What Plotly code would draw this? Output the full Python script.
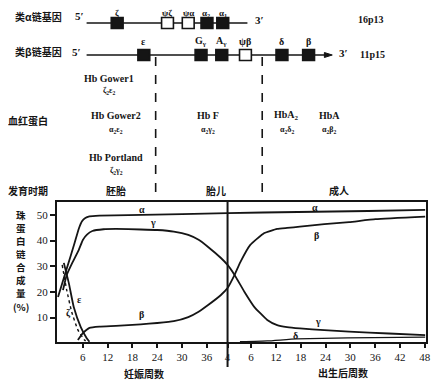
import plotly.graph_objects as go

# ---------------- data (x = weeks since conception; postnatal weeks offset by birth) ----------------
BIRTH = 40.7
alpha_wk  = [0, 2, 4, 5.0, 5.8, 6.6, 7.6, 10, 17, 30, 41, 58, 75, 88.8]
alpha_pct = [18, 28.5, 39, 44.5, 47.5, 48.8, 49.4, 49.7, 49.9, 50.3, 50.7, 51.1, 51.5, 51.9]

gamma_wk  = [1.2, 2.1, 3.5, 5.0, 6.0, 7.0, 8.3, 11, 14, 20, 24, 28, 31.5, 34, 36.3, 39.4, 41.0, 42.7,
             45.1, 47.5, 50.6, 53.0, 55.4, 58.5, 64.4, 70.4, 80, 88.8]
gamma_pct = [20.7, 26.6, 31.5, 36.3, 40.2, 42.3, 43.7, 44.4, 44.5, 44.3, 44.1, 43.5, 42.2, 40.3, 37.5,
             33.2, 30.5, 26.6, 20.0, 14.1, 9.1, 7.1, 6.3, 5.8, 5.1, 4.5, 3.8, 3.2]

beta_wk   = [4.8, 6.0, 7.6, 10, 14, 20, 24, 28, 31.5, 34, 36.3, 39.4, 41.0, 42.7, 44.1, 46.5,
             49.9, 53.0, 55.4, 58.5, 64.4, 70.4, 76.8, 88.8]
beta_pct  = [1.3, 4.0, 6.0, 6.5, 6.8, 7.4, 7.9, 8.6, 10.2, 12.3, 14.9, 18.8, 21.5, 26.6, 31.6, 38.3,
             42.9, 44.5, 44.9, 45.4, 46.4, 47.2, 48.3, 49.3]

epsilon_wk  = [1.4, 2.6, 3.8, 5.5, 6.9, 7.6]
epsilon_pct = [31.3, 23.5, 14.1, 6.3, 2.1, 0.6]

zeta_wk  = [1.0, 2.1, 3.3, 4.8, 6.4, 7.0]
zeta_pct = [30.5, 20.7, 12.2, 5.2, 1.3, 0.6]

delta_wk  = [44, 50.6, 57.7, 70, 88.8]
delta_pct = [0.6, 0.9, 1.7, 2.1, 2.4]

prenatal_ticks  = [6, 12, 18, 24, 30, 36]
postnatal_ticks = [6, 12, 18, 24, 30, 36, 42, 48]
y_ticks = [10, 20, 30, 40, 50]

# ---------------- layout helpers (reference pixel -> paper) ----------------
# the page body has an 8px default margin, so the figure is made 8px smaller
PAGE_MARGIN = 8
W, H = 442 - PAGE_MARGIN, 383 - PAGE_MARGIN
L, R, T, B = 57, 431, 202, 342          # plot area in reference pixels
Lf, Rf, Tf, Bf = L - PAGE_MARGIN, R - PAGE_MARGIN, T - PAGE_MARGIN, B - PAGE_MARGIN


def px(x):
    return (x - L) / (R - L)


def py(y):
    return (B - y) / (B - T)


INK = "#151515"
SERIF = "Liberation Serif, DejaVu Serif, serif"
CJK = "Noto Sans CJK SC, sans-serif"

fig = go.Figure()
line = dict(color=INK, width=1.8, shape="spline", smoothing=0.4)
fig.add_trace(go.Scatter(x=alpha_wk, y=alpha_pct, mode="lines", line=line, name="α"))
fig.add_trace(go.Scatter(x=gamma_wk, y=gamma_pct, mode="lines", line=line, name="γ"))
fig.add_trace(go.Scatter(x=beta_wk, y=beta_pct, mode="lines", line=line, name="β"))
fig.add_trace(go.Scatter(x=epsilon_wk, y=epsilon_pct, mode="lines", line=line, name="ε"))
fig.add_trace(go.Scatter(x=zeta_wk, y=zeta_pct, mode="lines",
                         line=dict(color=INK, width=1.4, dash="dot", shape="spline", smoothing=0.4),
                         name="ζ"))
fig.add_trace(go.Scatter(x=delta_wk, y=delta_pct, mode="lines",
                         line=dict(color=INK, width=1.3, shape="spline", smoothing=0.4), name="δ"))

tickvals = prenatal_ticks + [BIRTH + 0.3] + [BIRTH + p for p in postnatal_ticks]
ticktext = [str(t) for t in prenatal_ticks] + ["4"] + [str(t) for t in postnatal_ticks]

fig.update_layout(
    width=W, height=H, showlegend=False,
    margin=dict(l=Lf, r=W - Rf, t=Tf, b=H - Bf, pad=0),
    paper_bgcolor="white", plot_bgcolor="white",
    font=dict(family=SERIF, color=INK, size=11),
    xaxis=dict(range=[-0.25, 89.0], tickvals=tickvals, ticktext=ticktext, showgrid=False,
               zeroline=False, showline=True, linecolor=INK, linewidth=2, mirror=True,
               ticks="outside", ticklen=4, tickwidth=1.5, tickcolor=INK,
               tickfont=dict(family=SERIF, size=11, color=INK)),
    yaxis=dict(range=[0.5, 55], tickvals=y_ticks, showgrid=False, zeroline=False,
               showline=True, linecolor=INK, linewidth=2, mirror=True,
               ticks="outside", ticklen=5, tickwidth=1.5, tickcolor=INK,
               tickfont=dict(family=SERIF, size=11, color=INK)),
)

shapes = []
# birth line
shapes.append(dict(type="line", xref="x", yref="paper", x0=BIRTH + 0.3, x1=BIRTH + 0.3,
                   y0=py(367), y1=1, line=dict(color=INK, width=2)))
# dashed stage dividers
for xd in (157, 265):
    shapes.append(dict(type="line", xref="paper", yref="paper", x0=px(xd), x1=px(xd),
                       y0=py(57), y1=1, line=dict(color=INK, width=1.6, dash="dash")))
# gene lines
shapes.append(dict(type="line", xref="paper", yref="paper", x0=px(87), x1=px(250),
                   y0=py(23), y1=py(23), line=dict(color=INK, width=1.6)))
shapes.append(dict(type="line", xref="paper", yref="paper", x0=px(87), x1=px(330),
                   y0=py(55), y1=py(55), line=dict(color=INK, width=1.6)))
shapes.append(dict(type="path", xref="paper", yref="paper",
                   path=f"M {px(328)} {py(52.5)} L {px(336)} {py(55)} L {px(328)} {py(57.5)} Z",
                   fillcolor=INK, line=dict(color=INK, width=1)))

row1_genes = [(118, True), (169, False), (190, False), (209, True), (225, True)]
row2_genes = [(145, True), (203, True), (224, True), (248, False), (285, True), (312, True)]
for (gx, filled), gy in [(g, 23) for g in row1_genes] + [(g, 55) for g in row2_genes]:
    shapes.append(dict(type="rect", xref="paper", yref="paper",
                       x0=px(gx - 6), x1=px(gx + 6), y0=py(gy + 5.5), y1=py(gy - 5.5),
                       fillcolor=INK if filled else "white", line=dict(color=INK, width=1.6)))
fig.update_layout(shapes=shapes)

ann = []


def text(x, y, s, size=11, family=SERIF, xanchor="center"):
    ann.append(dict(x=px(x), y=py(y), xref="paper", yref="paper", text=s, showarrow=False,
                    font=dict(family=family, size=size, color=INK), xanchor=xanchor,
                    yanchor="middle"))


# gene rows
text(38, 17, "<b>类α链基因</b>", 10, CJK)
text(80, 16, "<b>5′</b>", 11)
text(262, 20, "<b>3′</b>", 11)
text(375, 19, "<b>16p13</b>", 10)
for gx, lab in zip([118, 168, 190, 208, 225], ["ζ", "ψζ", "ψα", "α<sub>2</sub>", "α<sub>1</sub>"]):
    text(gx, 13, f"<b>{lab}</b>", 9)
text(38, 52, "<b>类β链基因</b>", 10, CJK)
text(77, 52, "<b>5′</b>", 11)
text(347, 53, "<b>3′</b>", 11)
text(377, 54, "<b>11p15</b>", 10)
for gx, lab in zip([145, 203, 224, 248, 285, 312],
                   ["ε", "G<sub>γ</sub>", "A<sub>γ</sub>", "ψβ", "δ", "β"]):
    text(gx, 41, f"<b>{lab}</b>", 10)

# hemoglobins
text(110, 78, "<b>Hb Gower1</b>", 10)
text(110, 91, "<b>ζ<sub>2</sub>ε<sub>2</sub></b>", 8)
text(28, 120, "<b>血红蛋白</b>", 10, CJK)
text(117, 115, "<b>Hb Gower2</b>", 10)
text(117, 130, "<b>α<sub>2</sub>ε<sub>2</sub></b>", 8)
text(210, 115, "<b>Hb F</b>", 10)
text(210, 130, "<b>α<sub>2</sub>γ<sub>2</sub></b>", 8)
text(290, 115, "<b>HbA<sub>2</sub></b>", 10)
text(290, 130, "<b>α<sub>2</sub>δ<sub>2</sub></b>", 8)
text(333, 115, "<b>HbA</b>", 10)
text(333, 130, "<b>α<sub>2</sub>β<sub>2</sub></b>", 8)
text(117, 157, "<b>Hb Portland</b>", 10)
text(117, 171, "<b>ζ<sub>2</sub>γ<sub>2</sub></b>", 8)
text(28, 190, "<b>发育时期</b>", 10, CJK)
text(117, 190, "<b>胚胎</b>", 10, CJK)
text(218, 190, "<b>胎儿</b>", 10, CJK)
text(343, 190, "<b>成人</b>", 10, CJK)

# y-axis title, stacked vertically one character per line
for ch, cy in zip(["珠", "蛋", "白", "链", "合", "成", "量"], [215, 228, 241, 254, 267, 280, 293]):
    text(21, cy, f"<b>{ch}</b>", 9.5, CJK)
text(21, 307, "<b>(%)</b>", 9.5, CJK)
text(145, 373, "<b>妊娠周数</b>", 10, CJK)
text(347, 372, "<b>出生后周数</b>", 10, CJK)

# curve labels
for x, y, s in [(143, 209, "α"), (154, 222, "γ"), (143, 314, "β"), (80, 299, "ε"), (69, 313, "ζ"),
                (318, 207, "α"), (320, 235, "β"), (322, 321, "γ"), (299, 335, "δ")]:
    text(x, y, f"<b>{s}</b>", 10)

fig.update_layout(annotations=ann)
fig.write_html("out.html")
